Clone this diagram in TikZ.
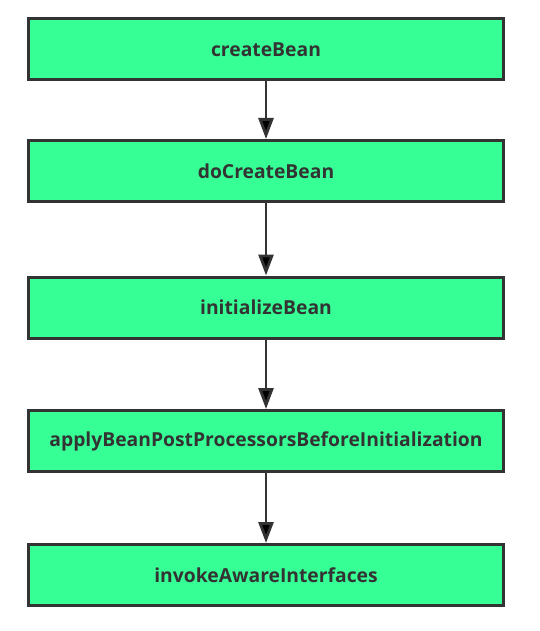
\documentclass[tikz,border=0pt]{standalone}
\usepackage{fontspec}
\setmainfont{Open Sans}
\usetikzlibrary{arrows.meta, positioning}

\definecolor{boxgreen}{HTML}{36FF96}
\definecolor{darkline}{HTML}{333333}

\begin{document}
\begin{tikzpicture}[x=1pt,y=1pt,node distance=134pt,on grid,>={Triangle[width=15pt,length=21pt]},thick]

		\useasboundingbox (0,0) rectangle (539,-631);

		\tikzset{
			callbox/.style={draw=darkline, line width=3pt, fill=boxgreen,
				minimum width=475pt, minimum height=61pt, inner sep=0pt,
				text=darkline, font=\bfseries\fontsize{19.3}{22}\selectfont},
			callarrow/.style={->, line width=2.8pt, draw=darkline}
		}

		\node (create)
			[callbox] at (266,-49.5) {createBean};
			\node (docreate)
				[callbox, below=121.5pt of create] {doCreateBean};
			\node (init)
				[callbox, below=136.5pt of docreate] {initializeBean};
			\node (beforeinit)
				[callbox, below=133.5pt of init] {applyBeanPostProcessorsBeforeInitialization};
			\node (aware)
				[callbox, below of = beforeinit] {invokeAwareInterfaces};

		\path [callarrow]
		(create) edge (docreate)
		(docreate) edge (init)
		(init) edge (beforeinit)
		(beforeinit) edge (aware)
		;
	\end{tikzpicture}
\end{document}
